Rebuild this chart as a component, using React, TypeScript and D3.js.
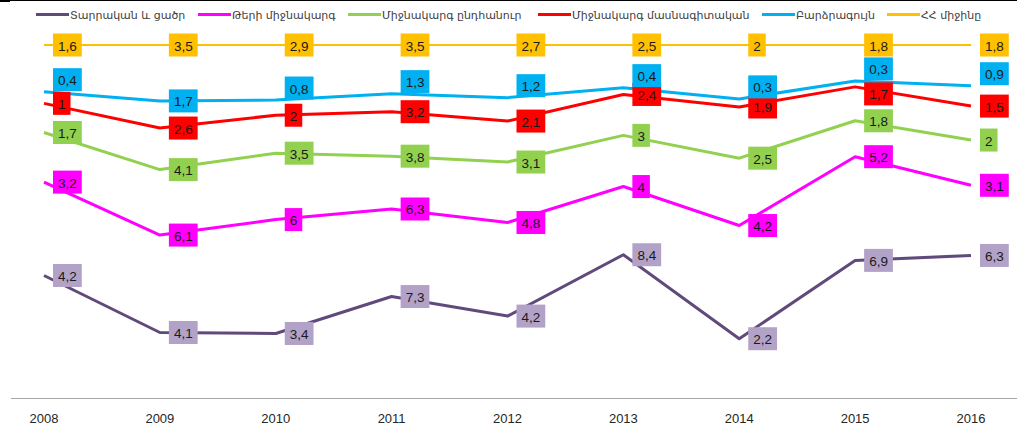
import React, { useEffect, useRef } from 'react';
import * as d3 from 'd3';

const years = ['2008', '2009', '2010', '2011', '2012', '2013', '2014', '2015', '2016'];

const seriesNames = [
  'Տարրական և ցածր',
  'Թերի միջնակարգ',
  'Միջնակարգ ընդհանուր',
  'Միջնակարգ մասնագիտական',
  'Բարձրագույն',
  'ՀՀ միջինը',
];

// values as shown on the labels (chart is a 100% stacked line)
const elementary = [4.2, 4.1, 3.4, 7.3, 4.2, 8.4, 2.2, 6.9, 6.3];
const incompleteSecondary = [3.2, 6.1, 6, 6.3, 4.8, 4, 4.2, 5.2, 3.1];
const generalSecondary = [1.7, 4.1, 3.5, 3.8, 3.1, 3, 2.5, 1.8, 2];
const vocational = [1, 2.6, 2, 3.2, 2.1, 2.4, 1.9, 1.7, 1.5];
const higher = [0.4, 1.7, 0.8, 1.3, 1.2, 0.4, 0.3, 0.3, 0.9];
const average = [1.6, 3.5, 2.9, 3.5, 2.7, 2.5, 2, 1.8, 1.8];

const seriesValues = [elementary, incompleteSecondary, generalSecondary, vocational, higher, average];

const lineColors = ['#604A7B', '#FF00FF', '#92D050', '#FF0000', '#00B0F0', '#FFC000'];
const boxColors = ['#B3A2C7', '#FF00FF', '#92D050', '#FF0000', '#00B0F0', '#FFC000'];
const lineWidths = [3, 3, 3, 3, 3, 1.8];

// legend sample line start x
const legendX = [36, 198, 348, 538, 762, 887];

const W = 1017;
const H = 430;

export default function App() {
  const svgRef = useRef<SVGSVGElement>(null);

  useEffect(() => {
    if (!svgRef.current) return;
    const svg = d3.select(svgRef.current);
    svg.selectAll('*').remove();

    const table = years.map((y, i) => {
      const row: any = { year: y };
      seriesNames.forEach((n, s) => { row[n] = seriesValues[s][i]; });
      return row;
    });

    const stacked = d3.stack<any>().keys(seriesNames).offset(d3.stackOffsetExpand)(table);

    const x = d3.scalePoint<string>().domain(years).range([44, 971]);
    const y = d3.scaleLinear().domain([0, 1]).range([398, 45]);

    // frame top edge
    svg.append('line').attr('x1', 0).attr('x2', W).attr('y1', 0.5).attr('y2', 0.5)
      .attr('stroke', '#000').attr('stroke-width', 1);
    svg.append('rect').attr('x', 0).attr('y', 0).attr('width', 10).attr('height', 2).attr('fill', '#000');

    // category axis
    svg.append('line').attr('x1', 11).attr('x2', W).attr('y1', 398.5).attr('y2', 398.5)
      .attr('stroke', '#A6A6A6').attr('stroke-width', 1);
    svg.append('g').selectAll('text').data(years).enter().append('text')
      .attr('x', d => x(d)!)
      .attr('y', 423)
      .attr('text-anchor', 'middle')
      .attr('font-family', 'Liberation Sans, Arial, sans-serif')
      .attr('font-size', 13)
      .attr('fill', '#262626')
      .text(d => d);

    const line = d3.line<any>()
      .x(d => x(d.data.year)!)
      .y(d => y(d[1]));

    const gLines = svg.append('g');
    stacked.forEach((s, i) => {
      gLines.append('path')
        .datum(s)
        .attr('d', line)
        .attr('fill', 'none')
        .attr('stroke', lineColors[i])
        .attr('stroke-width', lineWidths[i])
        .attr('stroke-linejoin', 'round');
    });

    // data labels
    const gLabels = svg.append('g');
    const fmt = (v: number) => String(v).replace('.', ',');
    stacked.forEach((s, i) => {
      s.forEach((d, j) => {
        const px = x(d.data.year)!;
        let py = y(d[1]);
        // Բարձրագույն labels sit above the line (except 2009)
        if (i === 4 && j !== 1) py -= 12;
        // 2015 vocational label pushed down a little to clear the blue one
        if (i === 3 && j === 7) py += 7;
        const g = gLabels.append('g');
        const t = g.append('text')
          .attr('font-family', 'Liberation Sans, Arial, sans-serif')
          .attr('font-size', 13.5)
          .attr('fill', '#1a1a1a')
          .attr('dominant-baseline', 'central')
          .text(fmt(seriesValues[i][j]));
        const tw = (t.node() as SVGTextElement).getComputedTextLength();
        const bw = tw + 10;
        const bx = px + 9;
        g.insert('rect', 'text')
          .attr('x', bx).attr('y', py - 11.5)
          .attr('width', bw).attr('height', 23)
          .attr('fill', boxColors[i]);
        t.attr('x', bx + 5).attr('y', py + 1);
      });
    });

    // legend
    const gLeg = svg.append('g');
    seriesNames.forEach((n, i) => {
      gLeg.append('line')
        .attr('x1', legendX[i]).attr('x2', legendX[i] + 33)
        .attr('y1', 14.5).attr('y2', 14.5)
        .attr('stroke', lineColors[i]).attr('stroke-width', 3);
      gLeg.append('text')
        .attr('x', legendX[i] + 34).attr('y', 15)
        .attr('dominant-baseline', 'central')
        .attr('font-family', 'DejaVu Sans, sans-serif')
        .attr('font-size', 11)
        .attr('fill', '#404040')
        .text(n);
    });
  }, []);

  return (
    <svg
      ref={svgRef}
      width={W}
      height={H}
      style={{ position: 'absolute', left: 0, top: 0, background: '#fff' }}
    />
  );
}
